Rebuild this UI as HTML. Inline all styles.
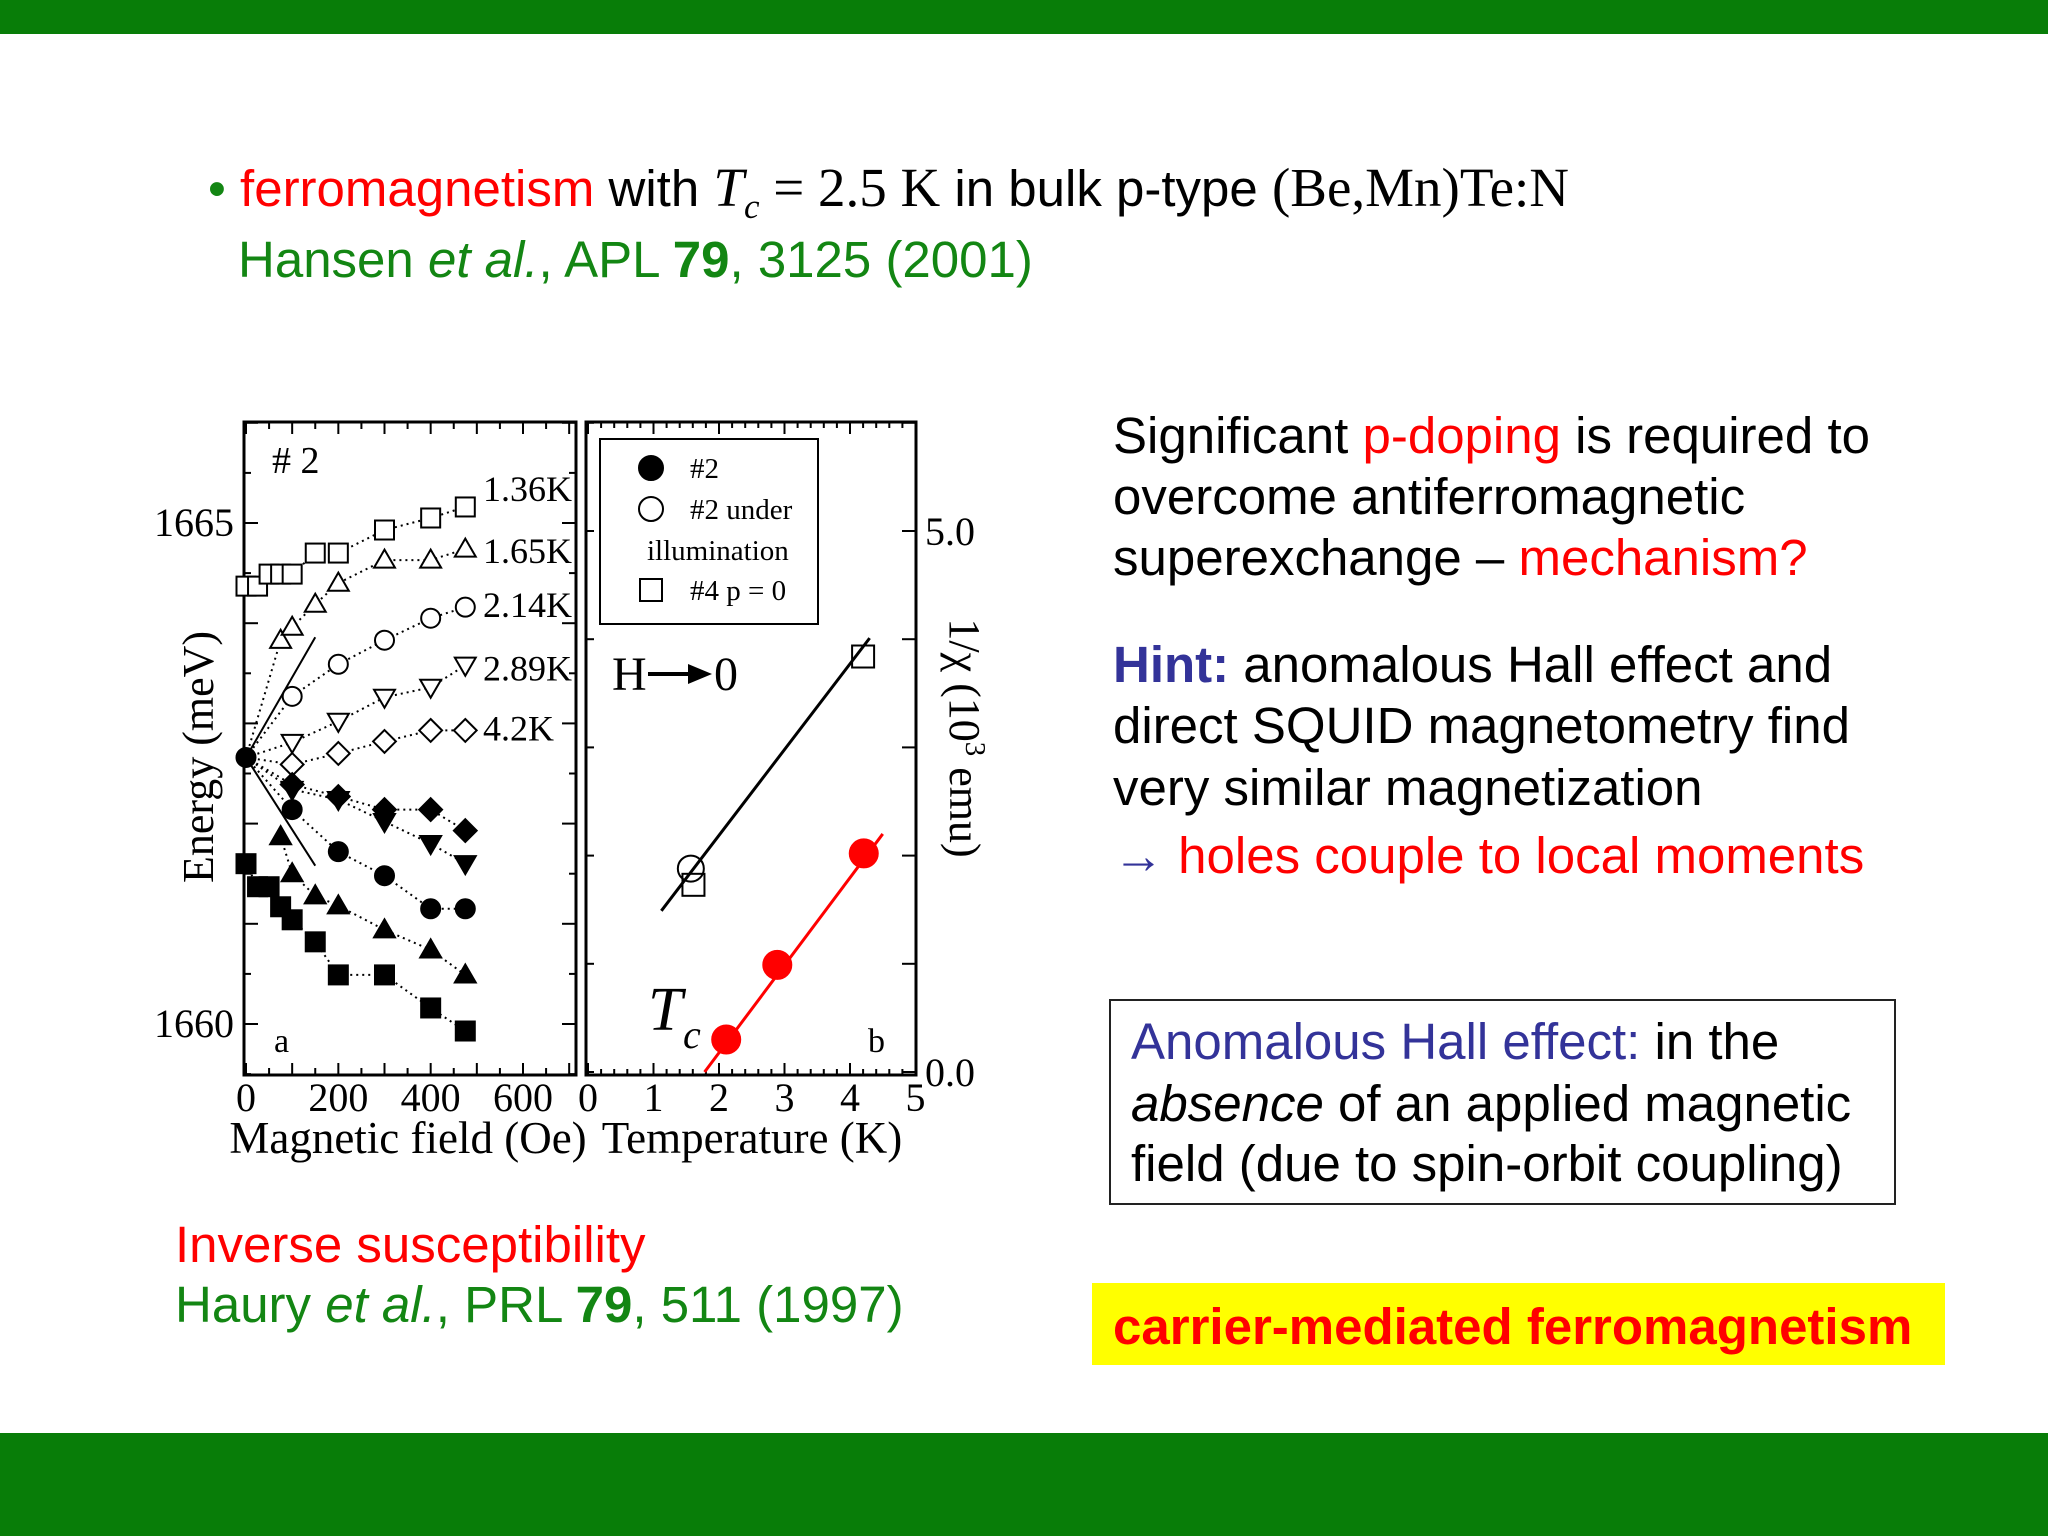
<!DOCTYPE html>
<html><head><meta charset="utf-8"><style>
body{margin:0;width:2048px;height:1536px;position:relative;background:#fff;overflow:hidden;font-family:"Liberation Sans",sans-serif}
.t{position:absolute;white-space:nowrap;line-height:1;font-size:51px}
.g{color:#138613}.r{color:#ff0000}.b{color:#333399}
.serif{font-family:"Liberation Serif",serif}
</style></head><body>
<div style="position:absolute;left:0;top:0;width:2048px;height:34px;background:#087d08"></div>
<div style="position:absolute;left:0;top:1433px;width:2048px;height:103px;background:#087d08"></div>

<div class="t" style="left:208px;top:160px"><span class="g">•</span> <span class="r">ferromagnetism</span> with <span class="serif" style="font-size:55px"><i>T</i><sub style="font-size:35px"><i>c</i></sub> = 2.5 K</span> in bulk p-type <span class="serif" style="font-size:55px">(Be,Mn)Te:N</span></div>
<div class="t g" style="left:238px;top:234px">Hansen <i>et al.</i>, APL <b>79</b>, 3125 (2001)</div>

<div class="t" style="left:1113px;top:410px">Significant <span class="r">p-doping</span> is required to</div>
<div class="t" style="left:1113px;top:471px">overcome antiferromagnetic</div>
<div class="t" style="left:1113px;top:532px">superexchange – <span class="r">mechanism?</span></div>
<div class="t" style="left:1113px;top:639px"><b class="b">Hint:</b> anomalous Hall effect and</div>
<div class="t" style="left:1113px;top:700px">direct SQUID magnetometry find</div>
<div class="t" style="left:1113px;top:762px">very similar magnetization</div>
<div class="t r" style="left:1113px;top:830px"><span class="b">→</span> holes couple to local moments</div>

<div style="position:absolute;left:1109px;top:999px;width:783px;height:202px;border:2px solid #222"></div>
<div class="t b" style="left:1131px;top:1016px">Anomalous Hall effect: <span style="color:#000">in the</span></div>
<div class="t" style="left:1131px;top:1078px"><i>absence</i> of an applied magnetic</div>
<div class="t" style="left:1131px;top:1138px">field (due to spin-orbit coupling)</div>

<div style="position:absolute;left:1092px;top:1283px;width:853px;height:82px;background:#ffff00"></div>
<div class="t r" style="left:1113px;top:1301px;font-weight:bold">carrier-mediated ferromagnetism</div>

<div class="t r" style="left:175px;top:1219px">Inverse susceptibility</div>
<div class="t g" style="left:175px;top:1279px">Haury <i>et al.</i>, PRL <b>79</b>, 511 (1997)</div>

<svg id="chart" width="2048" height="1536" style="position:absolute;left:0;top:0" font-family="Liberation Serif, serif"></svg>
<script>
// Panel a data: field (Oe) and energy (meV)
const fSq=[0,25,50,75,100,150,200,300,400,475];
const eSq=[1664.37,1664.37,1664.49,1664.49,1664.49,1664.70,1664.70,1664.93,1665.05,1665.16];
const fTri=[75,100,150,200,300,400,475];
const eTri=[1663.83,1663.96,1664.19,1664.40,1664.63,1664.63,1664.74];
const fCir=[100,200,300,400,475];
const eCir=[1663.27,1663.59,1663.83,1664.05,1664.16];
const fDtr=[100,200,300,400,475];
const eDtr=[1662.81,1663.02,1663.26,1663.36,1663.58];
const fDia=[100,200,300,400,475];
const eDia=[1662.59,1662.70,1662.82,1662.93,1662.93];
const fFDia=[100,200,300,400,475];
const eFDia=[1662.39,1662.27,1662.14,1662.14,1661.93];
const fFDtr=[100,200,300,400,475];
const eFDtr=[1662.34,1662.24,1662.02,1661.80,1661.60];
const fFCir=[0,100,200,300,400,475];
const eFCir=[1662.66,1662.14,1661.72,1661.48,1661.15,1661.15];
const fFTri=[75,100,150,200,300,400,475];
const eFTri=[1661.87,1661.50,1661.28,1661.18,1660.94,1660.74,1660.49];
const fFSq=[0,25,50,75,100,150,200,300,400,475];
const eFSq=[1661.60,1661.37,1661.37,1661.17,1661.04,1660.82,1660.49,1660.49,1660.16,1659.93];
const curveLabels=["1.36K","1.65K","2.14K","2.89K","4.2K"];
const curveLabelE=[1665.35,1664.73,1664.19,1663.56,1662.96];
const xTicksA=[0,200,400,600];
const yTicksA=[1660,1665];
// Panel b data: temperature (K), 1/chi (10^3 emu)
const tRed=[2.11,2.89,4.21];
const vRed=[0.30,0.99,2.02];
const tOpenC=[1.57];
const vOpenC=[1.88];
const tOpenS=[1.61,4.20];
const vOpenS=[1.73,3.84];
const redFitT=[1.78,4.50]; const redFitV=[0.0,2.20];
const blkFitT=[1.12,4.30]; const blkFitV=[1.49,4.01];
const xTicksB=[0,1,2,3,4,5];
const yTicksB=["0.0","5.0"];

const svg=document.getElementById('chart');const NS='http://www.w3.org/2000/svg';
function el(tag,attrs,parent){const e=document.createElementNS(NS,tag);for(const k in attrs)e.setAttribute(k,attrs[k]);(parent||svg).appendChild(e);return e;}
const TOP=422,BOT=1075;
const xa=f=>246+f*277/600, ya=E=>523+(1665-E)*100.2;
const xb=T=>588+T*65.5, yb=v=>1072-v*108.2;
let e;
e=el('rect',{x:244,y:TOP,width:332,height:BOT-TOP,fill:'none',stroke:'#000','stroke-width':3});

e=el('rect',{x:586,y:TOP,width:330,height:BOT-TOP,fill:'none',stroke:'#000','stroke-width':3});

for(let f=0;f<=700;f+=50){const L=f%100==0?12:7;el('line',{x1:xa(f),x2:xa(f),y1:BOT,y2:BOT-L,stroke:'#000','stroke-width':2});el('line',{x1:xa(f),x2:xa(f),y1:TOP,y2:TOP+L,stroke:'#000','stroke-width':2});}
for(let E=1659;E<=1666;E+=0.5){const y=ya(E);if(y<TOP||y>BOT)continue;const L=(E%1==0)?14:7;el('line',{x1:244,x2:244+L,y1:y,y2:y,stroke:'#000','stroke-width':2});el('line',{x1:576,x2:576-L,y1:y,y2:y,stroke:'#000','stroke-width':2});}
for(let T=0;T<=5;T+=0.2){const L=(Math.abs(T-Math.round(T))<0.01)?12:6;el('line',{x1:xb(T),x2:xb(T),y1:BOT,y2:BOT-L,stroke:'#000','stroke-width':2});el('line',{x1:xb(T),x2:xb(T),y1:TOP,y2:TOP+L,stroke:'#000','stroke-width':2});}
for(let v=0;v<=6;v+=1){const y=yb(v);if(y<TOP)continue;el('line',{x1:916,x2:902,y1:y,y2:y,stroke:'#000','stroke-width':2});el('line',{x1:586,x2:594,y1:y,y2:y,stroke:'#000','stroke-width':2});}
xTicksA.forEach(f=>{const t=el('text',{x:xa(f),y:1111,'font-size':40,'text-anchor':'middle'});t.textContent=f;});
yTicksA.forEach(E=>{const t=el('text',{x:234,y:ya(E)+13,'font-size':40,'text-anchor':'end'});t.textContent=E;});
xTicksB.forEach(T=>{const t=el('text',{x:xb(T),y:1111,'font-size':40,'text-anchor':'middle'});t.textContent=T;});
yTicksB.forEach(s=>{const t=el('text',{x:925,y:yb(parseFloat(s))+14,'font-size':40});t.textContent=s;});
let t;
t=el('text',{x:408,y:1153,'font-size':45,'text-anchor':'middle'});t.textContent='Magnetic field (Oe)';
t=el('text',{x:752,y:1153,'font-size':45,'text-anchor':'middle'});t.textContent='Temperature (K)';
t=el('text',{x:0,y:0,'font-size':44,'text-anchor':'middle',transform:'translate(213,757) rotate(-90)'});t.textContent='Energy (meV)';
t=el('text',{x:0,y:0,'font-size':44,'text-anchor':'middle',transform:'translate(950,738) rotate(90)'});t.innerHTML='1/χ (10<tspan baseline-shift="super" font-size="29">3</tspan> emu)';
t=el('text',{x:272,y:473,'font-size':38});t.textContent='# 2';
t=el('text',{x:274,y:1052,'font-size':34});t.textContent='a';
t=el('text',{x:868,y:1052,'font-size':34});t.textContent='b';
t=el('text',{x:612,y:690,'font-size':48});t.textContent='H';
el('line',{x1:648,x2:690,y1:674,y2:674,stroke:'#000','stroke-width':4});
el('polygon',{points:'688,664 712,674 688,684',fill:'#000'});
t=el('text',{x:714,y:690,'font-size':48});t.textContent='0';
t=el('text',{x:648,y:1030,'font-size':62,'font-style':'italic'});t.textContent='T';
t=el('text',{x:683,y:1048,'font-size':40,'font-style':'italic'});t.textContent='c';
curveLabels.forEach((s,i)=>{const t=el('text',{x:483,y:ya(curveLabelE[i])+13,'font-size':36});t.textContent=s;});
function marker(type,cx,cy,s,fill,stroke,name){let m;
 if(type=='sq')m=el('rect',{x:cx-s,y:cy-s,width:2*s,height:2*s});
 else if(type=='ci')m=el('circle',{cx:cx,cy:cy,r:s});
 else if(type=='tr')m=el('polygon',{points:`${cx},${cy-s*1.1} ${cx-s*1.1},${cy+s*0.8} ${cx+s*1.1},${cy+s*0.8}`});
 else if(type=='dt')m=el('polygon',{points:`${cx},${cy+s*1.1} ${cx-s*1.1},${cy-s*0.8} ${cx+s*1.1},${cy-s*0.8}`});
 else m=el('polygon',{points:`${cx},${cy-s*1.2} ${cx+s*1.2},${cy} ${cx},${cy+s*1.2} ${cx-s*1.2},${cy}`});
 m.setAttribute('fill',fill);m.setAttribute('stroke',stroke);m.setAttribute('stroke-width',2);
 
 }
function series(F,E,type,filled,name,withZero){
 const pts=(withZero?[[0,1662.66]]:[]).concat(F.map((f,i)=>[f,E[i]]));
 const p=el('polyline',{points:pts.map(q=>xa(q[0])+','+ya(q[1])).join(' '),fill:'none',stroke:'#000','stroke-width':2,'stroke-dasharray':'2,4'});
 
 F.forEach((f,i)=>marker(type,xa(f),ya(E[i]),9.5,filled?'#000':'#fff','#000',name+'-point'));}
el('line',{x1:xa(0),y1:ya(1662.66),x2:xa(150),y2:ya(1663.86),stroke:'#000','stroke-width':2});
el('line',{x1:xa(0),y1:ya(1662.66),x2:xa(150),y2:ya(1661.58),stroke:'#000','stroke-width':2});
series(fSq,eSq,'sq',false,'open-square-1-36k');
series(fTri,eTri,'tr',false,'open-triangle-1-65k',true);
series(fCir,eCir,'ci',false,'open-circle-2-14k',true);
series(fDtr,eDtr,'dt',false,'open-downtriangle-2-89k',true);
series(fDia,eDia,'di',false,'open-diamond-4-2k',true);
series(fFDia,eFDia,'di',true,'filled-diamond',true);
series(fFDtr,eFDtr,'dt',true,'filled-downtriangle',true);
series(fFCir,eFCir,'ci',true,'filled-circle');
series(fFTri,eFTri,'tr',true,'filled-triangle');
series(fFSq,eFSq,'sq',true,'filled-square');
e=el('line',{x1:xb(blkFitT[0]),y1:yb(blkFitV[0]),x2:xb(blkFitT[1]),y2:yb(blkFitV[1]),stroke:'#000','stroke-width':3});

e=el('line',{x1:xb(redFitT[0]),y1:yb(redFitV[0]),x2:xb(redFitT[1]),y2:yb(redFitV[1]),stroke:'#ff0000','stroke-width':3});

tOpenS.forEach((T,i)=>marker('sq',xb(T),yb(vOpenS[i]),11,'none','#000','open-square-b'));
tOpenC.forEach((T,i)=>marker('ci',xb(T),yb(vOpenC[i]),13,'none','#000','open-circle-b'));
tRed.forEach((T,i)=>marker('ci',xb(T),yb(vRed[i]),14,'#ff0000','#ff0000','red-point'));
e=el('rect',{x:600,y:439,width:218,height:185,fill:'#fff',stroke:'#000','stroke-width':2});

marker('ci',651,468,12,'#000','#000','legend-filled-circle');
marker('ci',651,509,12,'#fff','#000','legend-open-circle');
marker('sq',651,590,11,'#fff','#000','legend-open-square');
[['#2',468],['#2 under',509]].forEach(a=>{const t=el('text',{x:690,y:a[1]+10,'font-size':29});t.textContent=a[0];});
t=el('text',{x:647,y:560,'font-size':29});t.textContent='illumination';
t=el('text',{x:690,y:600,'font-size':29});t.textContent='#4 p = 0';
</script>
</body></html>
